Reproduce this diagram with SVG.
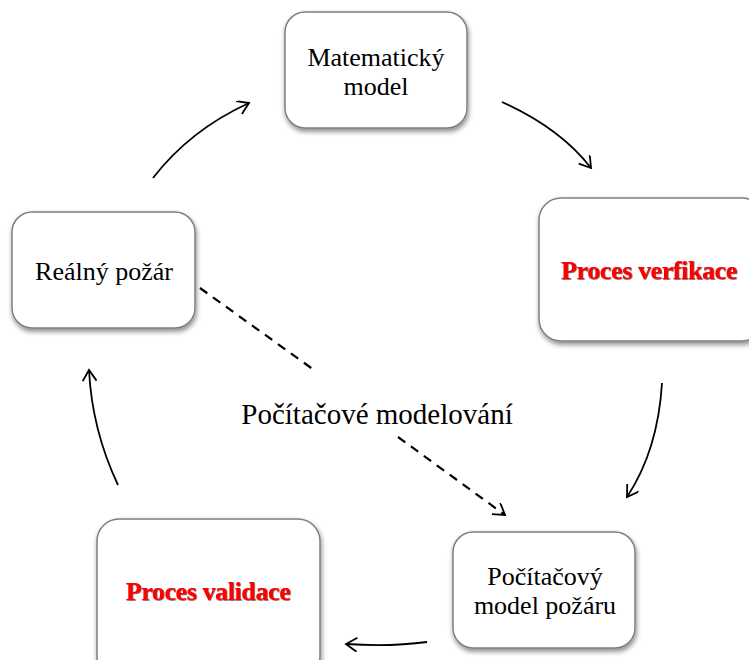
<svg xmlns="http://www.w3.org/2000/svg" width="749" height="660" viewBox="0 0 749 660">
<defs>
<filter id="sh" x="-20%" y="-20%" width="140%" height="150%">
<feDropShadow dx="1" dy="3" stdDeviation="2.5" flood-color="#000" flood-opacity="0.45"/>
</filter>
<filter id="tsh" x="-5%" y="-20%" width="110%" height="140%">
<feDropShadow dx="0.6" dy="0.6" stdDeviation="0.3" flood-color="#400" flood-opacity="0.9"/>
</filter>
<marker id="ah" markerUnits="userSpaceOnUse" markerWidth="20" markerHeight="20" refX="12" refY="7" orient="auto">
<path d="M1,0 L12,7 L1,14" fill="none" stroke="#000" stroke-width="1.8"/>
</marker>
</defs>
<style>
.box{fill:#fff;stroke:#7f7f7f;stroke-width:1.5;filter:url(#sh)}
.t{font-family:"Liberation Serif","Times New Roman",serif;font-size:26px;fill:#000;text-anchor:middle}
.l{font-family:"Liberation Serif","Times New Roman",serif;font-size:29px;fill:#000;text-anchor:middle}
.r{font-family:"Liberation Serif","Times New Roman",serif;font-size:26px;font-weight:bold;fill:#f00;text-anchor:middle;letter-spacing:-0.4px;filter:url(#tsh)}
.c{fill:none;stroke:#000;stroke-width:1.8;marker-end:url(#ah)}
.d{fill:none;stroke:#000;stroke-width:2.2;stroke-dasharray:9,7}
</style>
<rect width="749" height="660" fill="#fff"/>
<g id="connectors">
<path class="c" d="M153,178 Q190,130 249,103"/>
<path class="c" d="M502,102 Q560,128 591,168"/>
<path class="c" d="M662,383 Q658,450 627,497"/>
<path class="c" d="M427,642 Q390,647 346,644"/>
<path class="c" d="M118,485 Q92,430 89,370"/>
<path class="d" d="M200,288 L314,370"/>
<path class="d" d="M398,437 L505,515" marker-end="url(#ah)"/>
</g>
<g id="matematicky">
<rect class="box" x="285" y="12" width="182" height="116" rx="20"/>
<text class="t" x="376" y="66">Matematický</text>
<text class="t" x="376" y="95">model</text>
</g>
<g id="verifikace">
<rect class="box" x="539" y="198" width="225" height="143" rx="22"/>
<text class="r" x="649" y="279">Proces verfikace</text>
</g>
<g id="realny">
<rect class="box" x="12" y="212" width="183" height="116" rx="20"/>
<text class="t" x="104" y="280">Reálný požár</text>
</g>
<g id="validace">
<rect class="box" x="97" y="519" width="223" height="160" rx="22"/>
<text class="r" x="208" y="600">Proces validace</text>
</g>
<g id="pocitacovy">
<rect class="box" x="453" y="532" width="182" height="116" rx="20"/>
<text class="t" x="545" y="585">Počítačový</text>
<text class="t" x="545" y="614">model požáru</text>
</g>
<g id="label">
<text class="l" x="377" y="424">Počítačové modelování</text>
</g>
</svg>
